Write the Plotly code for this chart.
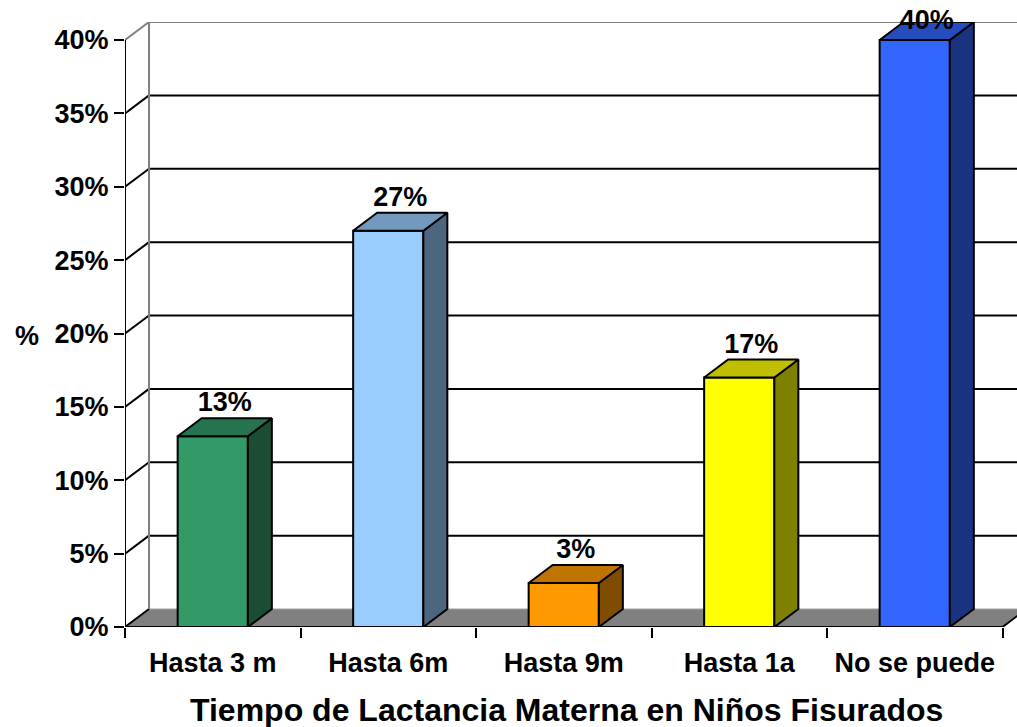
import plotly.graph_objects as go

categories = ["Hasta 3 m", "Hasta 6m", "Hasta 9m", "Hasta 1a", "No se puede"]
values = [13, 27, 3, 17, 40]
labels = ["13%", "27%", "3%", "17%", "40%"]
front_colors = ["#339966", "#99CCFF", "#FF9900", "#FFFF00", "#3366FF"]
top_colors = ["#267350", "#7399BF", "#BF7300", "#BFBF00", "#264DBF"]
side_colors = ["#1A4D33", "#4D6680", "#804D00", "#808000", "#1A3380"]
y_ticks = [0, 5, 10, 15, 20, 25, 30, 35, 40]
x_title = "Tiempo de Lactancia Materna en Niños Fisurados"
y_title = "%"

# 3D depth offset in data units
DX = 24 / 175.5
DY = 18 / (587 / 40)
HW = 0.2  # half bar width
n = len(categories)
xs = list(range(n))
FONT = "Liberation Sans, Arial, sans-serif"

fig = go.Figure()
shapes = []
x0, x1 = -0.5, n - 0.5
# floor
shapes.append(dict(type="path", xref="x", yref="y", layer="below",
                   path=f"M {x0},0 L {x1},0 L {x1+DX},{DY} L {x0+DX},{DY} Z",
                   fillcolor="#808080", line=dict(color="#a0a0a0", width=1)))
# back wall gridlines and diagonals
for v in y_ticks:
    col = "#808080" if v == y_ticks[-1] else "black"
    if v > 0:
        shapes.append(dict(type="line", xref="x", yref="y", layer="below",
                           x0=x0 + DX, x1=x1 + DX, y0=v + DY, y1=v + DY,
                           line=dict(color=col, width=2)))
    shapes.append(dict(type="line", xref="x", yref="y", layer="below",
                       x0=x0, x1=x0 + DX, y0=v, y1=v + DY,
                       line=dict(color=col, width=2)))
# back wall left edge
shapes.append(dict(type="line", xref="x", yref="y", layer="below",
                   x0=x0 + DX, x1=x0 + DX, y0=DY, y1=y_ticks[-1] + DY,
                   line=dict(color="#808080", width=2)))
# front axis line and floor front/right edge
shapes.append(dict(type="line", xref="x", yref="y", layer="below",
                   x0=x0, x1=x0, y0=0, y1=y_ticks[-1], line=dict(color="black", width=2)))
shapes.append(dict(type="path", xref="x", yref="y", layer="below",
                   path=f"M {x0},0 L {x1},0 L {x1+DX},{DY}",
                   line=dict(color="black", width=2)))

# front faces
fig.add_trace(go.Bar(x=xs, y=values, width=2 * HW, marker=dict(color=front_colors,
                     line=dict(color="black", width=2)), hoverinfo="skip", showlegend=False))

# side and top faces
for i, v in enumerate(values):
    c = xs[i]
    fig.add_trace(go.Scatter(
        x=[c + HW, c + HW + DX, c + HW + DX, c + HW, c + HW],
        y=[0, DY, v + DY, v, 0], mode="lines", fill="toself",
        fillcolor=side_colors[i], line=dict(color="black", width=2),
        hoverinfo="skip", showlegend=False))
    fig.add_trace(go.Scatter(
        x=[c - HW, c + HW, c + HW + DX, c - HW + DX, c - HW],
        y=[v, v, v + DY, v + DY, v], mode="lines", fill="toself",
        fillcolor=top_colors[i], line=dict(color="black", width=2),
        hoverinfo="skip", showlegend=False))

# data labels
positions = ["top center"] * (n - 1) + ["middle center"]
fig.add_trace(go.Scatter(
    x=[c + DX / 2 for c in xs], y=[v + DY for v in values], mode="text",
    text=labels, textposition=positions, cliponaxis=False,
    textfont=dict(family=FONT, size=27, color="black", weight="bold"),
    hoverinfo="skip", showlegend=False))

W, H = 1017, 727
ml, mr, mt, mb = 125, 0, 22, 100
px_per_cat = 175.5
px_per_pct = 587 / 40
xr = [-0.5, -0.5 + (W - ml - mr) / px_per_cat]
yr = [0, (H - mt - mb) / px_per_pct]

fig.update_layout(
    width=W, height=H, margin=dict(l=ml, r=mr, t=mt, b=mb),
    paper_bgcolor="white", plot_bgcolor="white", shapes=shapes,
    xaxis=dict(range=xr, tickvals=xs, ticktext=categories, ticks="", showgrid=False,
               zeroline=False, showline=False, fixedrange=True,
               tickfont=dict(family=FONT, size=27, color="black", weight="bold"),
               minor=dict(tick0=-0.5, dtick=1, ticks="outside", ticklen=10,
                          tickwidth=2, tickcolor="black", showgrid=False),
               ticklabelstandoff=17),
    yaxis=dict(range=yr, tickvals=y_ticks, ticktext=[f"{t}%" for t in y_ticks],
               ticks="outside", ticklen=10, tickwidth=2, tickcolor="black",
               showgrid=False, zeroline=False, showline=False, fixedrange=True,
               tickfont=dict(family=FONT, size=27, color="black", weight="bold")),
    annotations=[
        dict(text=x_title, xref="paper", yref="paper", x=(566 - ml) / (W - ml - mr),
             y=-(710 - (H - mb)) / (H - mt - mb), xanchor="center", yanchor="middle",
             showarrow=False, font=dict(family=FONT, size=32, color="black", weight="bold")),
        dict(text=y_title, xref="paper", yref="paper", x=-(ml - 27) / (W - ml - mr),
             y=(H - mb - 336) / (H - mt - mb), xanchor="center", yanchor="middle",
             showarrow=False, font=dict(family=FONT, size=27, color="black", weight="bold")),
    ],
)

fig.write_html("out.html", config={"displayModeBar": False},
               post_script="document.body.style.margin='0';document.body.style.overflow='hidden';")
